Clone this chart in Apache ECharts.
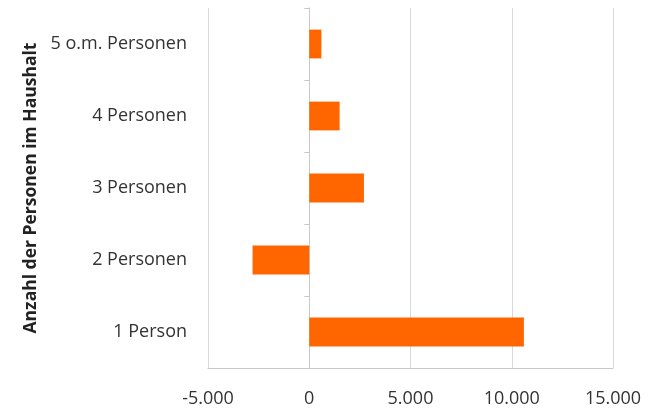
<!DOCTYPE html>
<html><head><meta charset="utf-8">
<script src="https://cdn.jsdelivr.net/npm/echarts@6/dist/echarts.min.js"></script>
<style>html,body{margin:0;padding:0;background:#fff}#c{width:657px;height:408px}</style>
</head><body><div id="c"></div>
<script>
var categories = ['1 Person', '2 Personen', '3 Personen', '4 Personen', '5 o.m. Personen'];
var values = [10600, -2800, 2700, 1500, 600];
var xTicks = { min: -5000, max: 15000, interval: 5000 };
var axisTitle = 'Anzahl der Personen im Haushalt';

var chart = echarts.init(document.getElementById('c'), null, {renderer: 'canvas'});
var fontFam = '"Open Sans", "Noto Sans", sans-serif';
chart.setOption({
  animation: false,
  grid: { left: 208, right: 44, top: 8, bottom: 40 },
  xAxis: {
    type: 'value', min: xTicks.min, max: xTicks.max, interval: xTicks.interval,
    axisLine: { show: true, lineStyle: { color: '#c8c8c8', width: 1 } },
    axisTick: { show: false },
    splitLine: { show: true, lineStyle: { color: '#d9d9d9', width: 1 } },
    axisLabel: {
      margin: 22, color: '#333', fontSize: 18, fontFamily: fontFam,
      formatter: function (v) {
        var s = Math.abs(v).toString().replace(/\B(?=(\d{3})+(?!\d))/g, '.');
        return (v < 0 ? '-' : '') + s;
      }
    }
  },
  yAxis: [{
    type: 'category', data: categories,
    axisLine: { show: false, onZero: false },
    axisTick: { show: false },
    axisLabel: { margin: 21, color: '#333', fontSize: 18, fontFamily: fontFam },
    name: axisTitle, nameLocation: 'middle', nameRotate: 90, nameGap: 158,
    nameTextStyle: { fontSize: 17.5, fontWeight: 'bold', color: '#222', fontFamily: fontFam }
  }, {
    type: 'category', data: categories, position: 'left',
    axisLine: { show: true, onZero: true, lineStyle: { color: '#c8c8c8', width: 1 } },
    axisTick: { show: true, length: 5, lineStyle: { color: '#c8c8c8' } },
    axisLabel: { show: false },
    splitLine: { show: false }
  }],
  series: [{
    type: 'bar', data: values, yAxisIndex: 0, barWidth: '40%',
    itemStyle: { color: '#ff6600' }
  }]
});
</script></body></html>
